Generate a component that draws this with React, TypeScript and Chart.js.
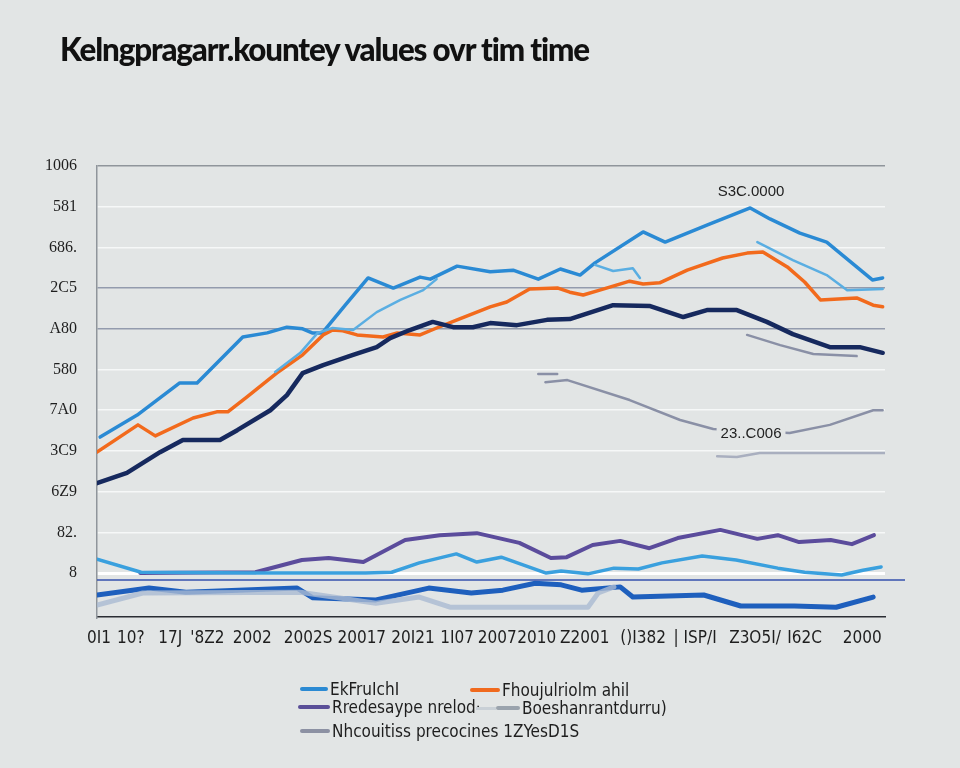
import React, { useEffect, useRef } from "react";
import { Chart, registerables } from "chart.js";

Chart.register(...registerables);

const titleText = "Kelngpragarr.kountey values ovr tim time";

const yTickValues = [0, 1, 2, 3, 4, 5, 6, 7, 8, 9, 10];
const yTickLabels = ["8", "82.", "6Z9", "3C9", "7A0", "580", "A80", "2C5", "686.", "581", "1006"];

const xTickValues = [0.25, 4.3, 9.3, 14.0, 19.7, 26.8, 33.6, 40.1, 45.7, 50.8, 55.8, 61.9, 69.3, 75.9, 83.5, 89.8, 97.1];
const xTickLabels = ["0I1", "10?", "17J", "'8Z2", "2002", "2002S", "20017", "20I21", "1I07", "2007", "2010", "Z2001", "()I382", "| ISP/I", "Z3O5I/", "I62C", "2000"];

type P = [number, number | null];

const blueMain: P[] = [
  [0.4, 3.34], [5.1, 3.88], [10.5, 4.67], [12.7, 4.67], [18.5, 5.8], [21.6, 5.9], [24.1, 6.04], [26.1, 6.0],
  [27.3, 5.9], [28.6, 5.9], [31.5, 6.58], [34.4, 7.25], [37.6, 7.0], [41.0, 7.27], [42.3, 7.22], [45.7, 7.54],
  [49.9, 7.4], [52.8, 7.44], [56.0, 7.22], [58.8, 7.47], [61.3, 7.32], [63.2, 7.62], [69.3, 8.38], [72.1, 8.13],
  [77.4, 8.55], [82.9, 8.97], [85.4, 8.7], [89.2, 8.35], [92.6, 8.13], [98.4, 7.2], [99.7, 7.25],
];

const blueLight: P[] = [
  [22.6, 4.94], [25.8, 5.41], [28.0, 5.9], [29.9, 6.02], [32.5, 5.97], [35.5, 6.41], [38.5, 6.71], [41.4, 6.95], [43.1, 7.22],
  [50, null],
  [63.2, 7.57], [65.5, 7.42], [68.0, 7.49], [68.9, 7.25],
  [75, null],
  [83.8, 8.13], [88.3, 7.69], [92.6, 7.32], [95.2, 6.95], [99.7, 6.98],
];

const orange: P[] = [
  [0, 2.97], [5.2, 3.64], [7.4, 3.37], [12.2, 3.81], [15.2, 3.96], [16.6, 3.96], [19.0, 4.32], [22.8, 4.91],
  [26.1, 5.36], [28.7, 5.85], [29.9, 5.97], [31.2, 5.95], [33.0, 5.85], [36.3, 5.8], [38.1, 5.9], [41.0, 5.85],
  [43.1, 6.02], [45.7, 6.22], [49.9, 6.54], [52.0, 6.66], [54.9, 6.98], [58.5, 7.0], [60.0, 6.9], [61.7, 6.83],
  [63.8, 6.95], [67.6, 7.17], [69.3, 7.1], [71.4, 7.13], [74.9, 7.44], [79.4, 7.74], [82.5, 7.86], [84.5, 7.89],
  [87.6, 7.52], [89.8, 7.15], [91.8, 6.71], [96.4, 6.76], [98.5, 6.58], [99.7, 6.54],
];

const navy: P[] = [
  [0, 2.21], [3.8, 2.46], [8.0, 2.97], [10.9, 3.27], [15.6, 3.27], [17.8, 3.51], [22.0, 4.0], [24.1, 4.37],
  [26.1, 4.91], [28.7, 5.11], [32.5, 5.36], [35.5, 5.55], [37.2, 5.77], [39.7, 5.97], [42.6, 6.17], [45.2, 6.04],
  [47.7, 6.04], [49.9, 6.14], [53.3, 6.09], [57.1, 6.22], [60.0, 6.24], [65.5, 6.58], [70.2, 6.56], [74.4, 6.29],
  [77.4, 6.46], [81.2, 6.46], [85.0, 6.17], [88.3, 5.87], [93.0, 5.55], [96.8, 5.55], [99.7, 5.41],
];

const grayMid: P[] = [
  [82.5, 5.85], [86.7, 5.6], [90.9, 5.38], [96.4, 5.33],
  [97, null],
  [56.0, 4.89], [58.4, 4.89],
  [58.5, null],
  [56.9, 4.69], [59.7, 4.74], [67.6, 4.25], [74.0, 3.76], [78.2, 3.54], [87.9, 3.44], [93.0, 3.64], [98.5, 4.0], [99.7, 4.0],
];

const grayFaint: P[] = [
  [78.7, 2.87], [81.2, 2.85], [84.1, 2.95], [93.0, 2.95], [100, 2.95],
];

const purple: P[] = [
  [5.5, 0], [20.1, 0.02], [26.0, 0.32], [29.4, 0.37], [33.8, 0.27], [39.1, 0.81], [43.5, 0.93], [48.2, 0.98],
  [53.6, 0.74], [57.6, 0.37], [59.6, 0.39], [62.9, 0.69], [66.4, 0.79], [70.1, 0.61], [73.7, 0.86], [79.1, 1.06],
  [83.8, 0.84], [86.4, 0.93], [89.1, 0.76], [93.1, 0.81], [95.8, 0.71], [98.6, 0.93],
];

const skyLow: P[] = [
  [0, 0.34], [5.6, 0.02], [20.1, 0], [34.1, 0], [37.4, 0.02], [40.9, 0.25], [45.6, 0.47], [48.2, 0.27],
  [51.3, 0.39], [57.0, 0], [58.9, 0.05], [62.3, -0.02], [65.6, 0.12], [68.7, 0.1], [71.7, 0.25], [76.8, 0.42],
  [81.1, 0.32], [86.4, 0.12], [89.8, 0.02], [94.5, -0.05], [97.2, 0.07], [99.5, 0.15],
];

const blueLow: P[] = [
  [0, -0.54], [6.6, -0.37], [11.3, -0.47], [25.4, -0.37], [27.4, -0.61], [35.4, -0.66], [42.1, -0.37], [47.5, -0.49],
  [51.5, -0.42], [55.6, -0.25], [58.9, -0.29], [61.5, -0.42], [66.4, -0.34], [68.0, -0.59], [77.0, -0.54], [81.7, -0.81],
  [88.5, -0.81], [93.8, -0.84], [98.5, -0.59],
];

const washLow: P[] = [
  [0, -0.79], [5.8, -0.49], [25.8, -0.47], [35.4, -0.74], [40.9, -0.59], [44.8, -0.84], [62.3, -0.84], [63.6, -0.49], [65.6, -0.34],
];

const annotations = [
  { text: "S3C.0000", x: 83.0, y: 9.36, masked: false },
  { text: "23..C006", x: 83.0, y: 3.43, masked: true },
];

const baseLineValue = -0.17;

const legendItems = [
  { label: "EkFruIchI", color: "#2b8ad3", x: 300, y: 689, w: 28 },
  { label: "Fhoujulriolm ahil", color: "#f06a1e", x: 470, y: 690, w: 30 },
  { label: "Rredesaype nrelod·", color: "#5a4f98", x: 298, y: 707, w: 32 },
  { label: "Boeshanrantdurru)", color: "#9aa3ad", x: 476, y: 708, w: 44, pre: "#c9d0d6" },
  { label: "Nhcouitiss precocines 1ZYesD1S", color: "#8c91a3", x: 300, y: 731, w: 30 },
];

const BG = "#e2e5e5";

function toXY(points: P[]) {
  return points.map(([x, y]) => ({ x, y }));
}

export default function App() {
  const ref = useRef<HTMLCanvasElement>(null);

  useEffect(() => {
    if (!ref.current) return;

    const extras = {
      id: "extras",
      afterDatasetsDraw(chart: any) {
        const { ctx, chartArea, scales } = chart;
        const ys = scales.y;
        const xs = scales.x;
        ctx.save();
        const by = ys.getPixelForValue(baseLineValue);
        ctx.strokeStyle = "#3450ad";
        ctx.lineWidth = 1.5;
        ctx.beginPath();
        ctx.moveTo(chartArea.left, by);
        ctx.lineTo(chartArea.right + 20, by);
        ctx.stroke();
        ctx.font = "15px 'Liberation Sans', Arial, sans-serif";
        ctx.textAlign = "center";
        ctx.textBaseline = "middle";
        for (const a of annotations) {
          const px = xs.getPixelForValue(a.x);
          const py = ys.getPixelForValue(a.y);
          const w = ctx.measureText(a.text).width;
          if (a.masked) {
            ctx.fillStyle = BG;
            ctx.fillRect(px - w / 2 - 4, py - 9, w + 8, 18);
          }
          ctx.fillStyle = "#222";
          ctx.fillText(a.text, px, py);
        }
        ctx.restore();
      },
    };

    const line = (data: P[], color: string, width: number) => ({
      data: toXY(data),
      borderColor: color,
      backgroundColor: color,
      borderWidth: width,
      pointRadius: 0,
      tension: 0,
      spanGaps: false,
      borderJoinStyle: "round" as const,
      borderCapStyle: "round" as const,
      fill: false,
    });

    const chart = new Chart(ref.current, {
      type: "line",
      data: {
        datasets: [
          line(washLow, "rgba(170,186,210,0.8)", 5),
          line(grayFaint, "#a9afbf", 2.5),
          line(grayMid, "#8a90a6", 2.5),
          line(blueLow, "#1e5fbd", 5),
          line(skyLow, "#3aa0de", 3.5),
          line(purple, "#5b4c9c", 4),
          line(blueLight, "#5aaee2", 2.5),
          line(navy, "#16295e", 4.5),
          line(orange, "#f26a1c", 3.5),
          line(blueMain, "#2a8ad4", 3.5),
        ],
      },
      options: {
        responsive: false,
        animation: false,
        layout: { padding: { top: 166, right: 75, left: 0, bottom: 0 } },
        plugins: {
          legend: { display: false },
          tooltip: { enabled: false },
          title: { display: false },
        },
        scales: {
          x: {
            type: "linear",
            min: 0,
            max: 100,
            afterBuildTicks: (scale: any) => {
              scale.ticks = xTickValues.map((v) => ({ value: v }));
            },
            afterFit: (scale: any) => {
              scale.height = 151;
            },
            grid: { display: false, drawTicks: false },
            border: { display: true, color: "#2a2d33", width: 1.5 },
            ticks: {
              autoSkip: false,
              maxRotation: 0,
              padding: 11,
              color: "#1e1e1e",
              font: { family: "'Liberation Sans Narrow', 'DejaVu Sans Condensed', 'Liberation Sans', sans-serif", size: 17 },
              callback: (_v: any, i: number) => xTickLabels[i],
            },
          },
          y: {
            type: "linear",
            min: -1.08,
            max: 10,
            afterBuildTicks: (scale: any) => {
              scale.ticks = yTickValues.map((v) => ({ value: v }));
            },
            afterFit: (scale: any) => {
              scale.width = 97;
            },
            grid: {
              drawTicks: false,
              color: (ctx: any) => {
                const v = ctx.tick?.value;
                if (v === 10) return "#8f959b";
                if (v === 7 || v === 6) return "#939bad";
                if (v === 0) return "#ffffff";
                return "#f6f8f8";
              },
              lineWidth: (ctx: any) => (ctx.tick?.value === 0 ? 3 : 1.5),
            },
            border: { display: true, color: "#8f959b", width: 1.5 },
            ticks: {
              padding: 20,
              color: "#1e1e1e",
              font: { family: "'Liberation Serif', 'DejaVu Serif', serif", size: 16 },
              callback: (_v: any, i: number) => yTickLabels[i],
            },
          },
        },
      },
      plugins: [extras],
    } as any);

    return () => chart.destroy();
  }, []);

  return (
    <div style={{ position: "absolute", left: 0, top: 0, width: 960, height: 768, background: BG, overflow: "hidden" }}>
      <canvas ref={ref} width={960} height={768} style={{ position: "absolute", left: 0, top: 0 }} />
      <div
        style={{
          position: "absolute",
          left: 60,
          top: 28,
          fontFamily: "Lato, 'Open Sans', sans-serif",
          fontWeight: 900,
          fontSize: 33,
          letterSpacing: -1.2,
          color: "#111",
          whiteSpace: "nowrap",
          transformOrigin: "left top",
          transform: "scaleX(0.95)",
        }}
      >
        {titleText}
      </div>
      {legendItems.map((it) => (
        <div key={it.label} style={{ position: "absolute", left: it.x, top: it.y - 11, height: 22, display: "flex", alignItems: "center", whiteSpace: "nowrap" }}>
          {it.pre ? <span style={{ display: "inline-block", width: 20, height: 3, background: it.pre, marginRight: 0 }} /> : null}
          <span style={{ display: "inline-block", width: it.pre ? it.w - 20 : it.w, height: 4, background: it.color, borderRadius: 2 }} />
          <span
            style={{
              marginLeft: 2,
              fontFamily: "'Liberation Sans Narrow', 'DejaVu Sans Condensed', 'Liberation Sans', sans-serif",
              fontSize: 17,
              color: "#1e1e1e",
            }}
          >
            {it.label}
          </span>
        </div>
      ))}
    </div>
  );
}
